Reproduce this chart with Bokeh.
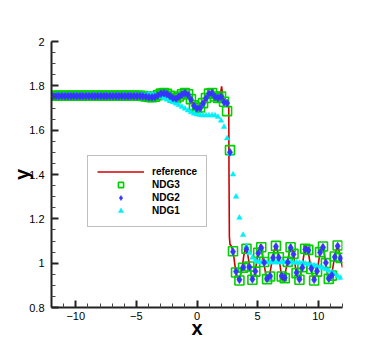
from bokeh.plotting import figure
from bokeh.models import Range1d, FixedTicker, CustomJSTickFormatter, Legend, LegendItem
from bokeh.embed import file_html
from bokeh.resources import INLINE

# ---------------- data ----------------
XG = [-11.88, -11.63, -11.39, -11.14, -10.89, -10.64, -10.40, -10.15, -9.90, -9.65,
      -9.41, -9.16, -8.91, -8.66, -8.42, -8.17, -7.92, -7.67, -7.43, -7.18,
      -6.93, -6.68, -6.44, -6.19, -5.94, -5.69, -5.45, -5.20, -4.95, -4.70,
      -4.46, -4.21, -3.96, -3.71, -3.47, -3.22, -2.97, -2.72, -2.48, -2.23,
      -1.98, -1.73, -1.49, -1.24, -0.99, -0.74, -0.50, -0.25, 0.00, 0.25,
      0.50, 0.74, 0.99, 1.24, 1.49, 1.73, 1.98, 2.23, 2.48, 2.72,
      2.97, 3.22, 3.50, 3.80, 4.08, 4.32, 4.57, 4.81, 5.05, 5.30,
      5.54, 5.78, 6.02, 6.27, 6.51, 6.75, 6.99, 7.24, 7.48, 7.72,
      7.96, 8.21, 8.45, 8.69, 8.93, 9.18, 9.42, 9.66, 9.90, 10.15,
      10.39, 10.63, 10.87, 11.12, 11.36, 11.60, 11.84]

NDG3 = [1.755, 1.755, 1.755, 1.755, 1.755, 1.755, 1.755, 1.755, 1.755, 1.755,
        1.755, 1.755, 1.755, 1.755, 1.755, 1.755, 1.755, 1.755, 1.755, 1.755,
        1.755, 1.755, 1.755, 1.755, 1.755, 1.755, 1.755, 1.755, 1.755, 1.755,
        1.754, 1.752, 1.750, 1.749, 1.751, 1.758, 1.765, 1.768, 1.764, 1.755,
        1.746, 1.744, 1.752, 1.762, 1.767, 1.762, 1.740, 1.712, 1.700, 1.702,
        1.722, 1.745, 1.765, 1.768, 1.752, 1.745, 1.752, 1.728, 1.686, 1.510,
        1.054, 0.958, 0.922, 0.979, 1.065, 0.985, 0.925, 0.962, 1.047, 1.072,
        1.005, 0.928, 0.940, 1.027, 1.078, 1.027, 0.940, 0.932, 1.006, 1.072,
        1.042, 0.955, 0.925, 0.982, 1.065, 1.060, 0.974, 0.922, 0.962, 1.050,
        1.075, 1.000, 0.929, 0.944, 1.030, 1.080, 1.024]

NDG2 = [1.754, 1.754, 1.754, 1.754, 1.754, 1.754, 1.754, 1.754, 1.754, 1.754,
        1.754, 1.754, 1.754, 1.754, 1.754, 1.754, 1.754, 1.754, 1.754, 1.754,
        1.754, 1.754, 1.754, 1.754, 1.754, 1.754, 1.754, 1.754, 1.754, 1.754,
        1.753, 1.751, 1.749, 1.748, 1.750, 1.757, 1.764, 1.767, 1.763, 1.754,
        1.745, 1.743, 1.751, 1.761, 1.766, 1.760, 1.738, 1.710, 1.698, 1.700,
        1.720, 1.744, 1.764, 1.766, 1.750, 1.746, 1.750, 1.726, 1.722, 1.500,
        1.052, 0.962, 0.925, 0.981, 1.063, 0.983, 0.927, 0.963, 1.045, 1.070,
        1.003, 0.930, 0.942, 1.025, 1.075, 1.025, 0.942, 0.934, 1.004, 1.070,
        1.040, 0.957, 0.927, 0.980, 1.062, 1.058, 0.976, 0.925, 0.964, 1.048,
        1.072, 1.002, 0.931, 0.946, 1.028, 1.077, 1.022]

NDG1 = [1.757, 1.757, 1.757, 1.757, 1.757, 1.757, 1.757, 1.757, 1.757, 1.757,
        1.757, 1.757, 1.757, 1.757, 1.757, 1.757, 1.757, 1.757, 1.757, 1.757,
        1.757, 1.757, 1.757, 1.757, 1.757, 1.757, 1.757, 1.757, 1.758, 1.759,
        1.760, 1.761, 1.762, 1.762, 1.760, 1.756, 1.750, 1.744, 1.738, 1.732,
        1.726, 1.720, 1.713, 1.705, 1.697, 1.689, 1.681, 1.675, 1.671, 1.668,
        1.667, 1.667, 1.667, 1.667, 1.666, 1.660, 1.643, 1.615, 1.563, 1.493,
        1.400, 1.300, 1.205, 1.127, 1.075, 1.045, 1.025, 1.012, 1.006, 1.004,
        1.004, 1.003, 1.003, 1.004, 1.003, 1.003, 1.004, 1.003, 1.003, 1.003,
        1.003, 1.002, 1.002, 1.000, 0.998, 0.996, 0.993, 0.990, 0.987, 0.983,
        0.978, 0.972, 0.966, 0.959, 0.951, 0.942, 0.933]

REF_X = [-12.0, -4.7, -4.2, -3.7, -3.2, -2.75, -2.3, -1.9, -1.5, -1.05,
         -0.75, -0.5, -0.25, 0.0, 0.25, 0.5, 0.75, 1.0, 1.15, 1.25,
         1.35, 1.5, 1.7, 1.88, 1.97, 2.03, 2.1, 2.25, 2.45, 2.58,
         2.62, 2.64, 2.67, 2.72, 2.85, 3.0, 3.2, 3.45, 3.7, 3.85,
         4.05, 4.3, 4.55, 4.8, 5.0, 5.25, 5.5, 5.8, 6.0, 6.25,
         6.5, 6.75, 7.0, 7.12, 7.45, 7.72, 7.95, 8.2, 8.42, 8.65,
         8.95, 9.15, 9.4, 9.65, 9.9, 10.15, 10.38, 10.62, 10.87, 11.1,
         11.35, 11.6, 11.84, 12.0]
REF_Y = [1.755, 1.755, 1.751, 1.748, 1.758, 1.769, 1.757, 1.744, 1.752, 1.768,
         1.763, 1.740, 1.710, 1.698, 1.702, 1.722, 1.746, 1.766, 1.772, 1.788,
         1.768, 1.752, 1.742, 1.752, 1.775, 1.798, 1.765, 1.730, 1.722, 1.712,
         1.700, 1.400, 1.120, 1.085, 1.075, 1.045, 0.960, 0.918, 0.970, 1.030,
         1.085, 1.000, 0.918, 0.960, 1.040, 1.085, 1.000, 0.918, 0.950, 1.030,
         1.085, 1.030, 0.930, 0.918, 1.000, 1.085, 1.040, 0.955, 0.918, 0.980,
         1.085, 1.060, 0.975, 0.918, 0.960, 1.050, 1.085, 1.000, 0.918, 0.945,
         1.030, 1.085, 1.025, 0.980]

X_MAJOR = [-10, -5, 0, 5, 10]
X_MINOR = [-12, -11, -9, -8, -7, -6, -4, -3, -2, -1, 1, 2, 3, 4, 6, 7, 8, 9, 11, 12]
Y_MAJOR = [0.8, 1.0, 1.2, 1.4, 1.6, 1.8, 2.0]
Y_MINOR = [0.85, 0.9, 0.95, 1.05, 1.1, 1.15, 1.25, 1.3, 1.35, 1.45, 1.5, 1.55,
           1.65, 1.7, 1.75, 1.85, 1.9, 1.95]

# ---------------- figure ----------------
p = figure(width=381, height=341, output_backend="svg", toolbar_location=None,
           x_range=Range1d(-12, 12), y_range=Range1d(0.8, 2.0),
           min_border_left=51, min_border_right=39, min_border_top=41, min_border_bottom=34)
p.outline_line_color = None
p.xgrid.visible = False
p.ygrid.visible = False
p.background_fill_color = "white"
p.border_fill_color = "white"

r_ref = p.line(REF_X, REF_Y, line_color="#d00000", line_width=1.6)
r3 = p.scatter(XG, NDG3, marker="square", size=9, fill_color=None,
               line_color="#00d000", line_width=1.6)
r1 = p.scatter(XG, NDG1, marker="triangle", size=5.5, fill_color="#00f0f8",
               line_color="#00f0f8", line_width=0.5)
r2 = p.scatter(XG, NDG2, marker="diamond", size=8, fill_color="#3535ff",
               line_color="#3535ff", line_width=0.5)

for ax, lbl in ((p.xaxis[0], "x"), (p.yaxis[0], "y")):
    ax.axis_label = lbl
    ax.axis_label_text_font = "Liberation Sans"
    ax.axis_label_text_font_style = "bold"
    ax.axis_label_text_font_size = "20px"
    ax.axis_label_text_color = "black"
    ax.major_label_text_font = "Liberation Sans"
    ax.major_label_text_font_size = "11px"
    ax.major_label_text_color = "black"
    ax.axis_line_color = "#222222"
    ax.axis_line_width = 2
    ax.major_tick_line_color = "#222222"
    ax.major_tick_line_width = 2
    ax.major_tick_in = 7
    ax.major_tick_out = 0
    ax.minor_tick_line_color = "#444444"
    ax.minor_tick_line_width = 1
    ax.minor_tick_in = 4
    ax.minor_tick_out = 0

p.xaxis[0].ticker = FixedTicker(ticks=X_MAJOR, minor_ticks=X_MINOR)
p.yaxis[0].ticker = FixedTicker(ticks=Y_MAJOR, minor_ticks=Y_MINOR)
p.yaxis[0].formatter = CustomJSTickFormatter(code="return String(Math.round(tick*10)/10);")
p.xaxis[0].major_label_standoff = 4
p.xaxis[0].axis_label_standoff = -6
p.yaxis[0].major_label_standoff = 7
p.yaxis[0].axis_label_standoff = -7

legend = Legend(items=[LegendItem(label="reference", renderers=[r_ref]),
                       LegendItem(label="NDG3", renderers=[r3]),
                       LegendItem(label="NDG2", renderers=[r2]),
                       LegendItem(label="NDG1", renderers=[r1])],
                location=(36, 80))
legend.border_line_color = "#808080"
legend.border_line_width = 1
legend.background_fill_color = "white"
legend.background_fill_alpha = 1
legend.label_text_font = "Liberation Sans"
legend.label_text_font_style = "bold"
legend.label_text_font_size = "10px"
legend.label_text_color = "black"
legend.glyph_width = 47
legend.glyph_height = 13
legend.label_height = 13
legend.label_width = 41
legend.label_standoff = 8
legend.spacing = 0
legend.padding = 9
legend.margin = 0
p.add_layout(legend, "center")

open("out.html", "w").write(file_html(p, INLINE))
